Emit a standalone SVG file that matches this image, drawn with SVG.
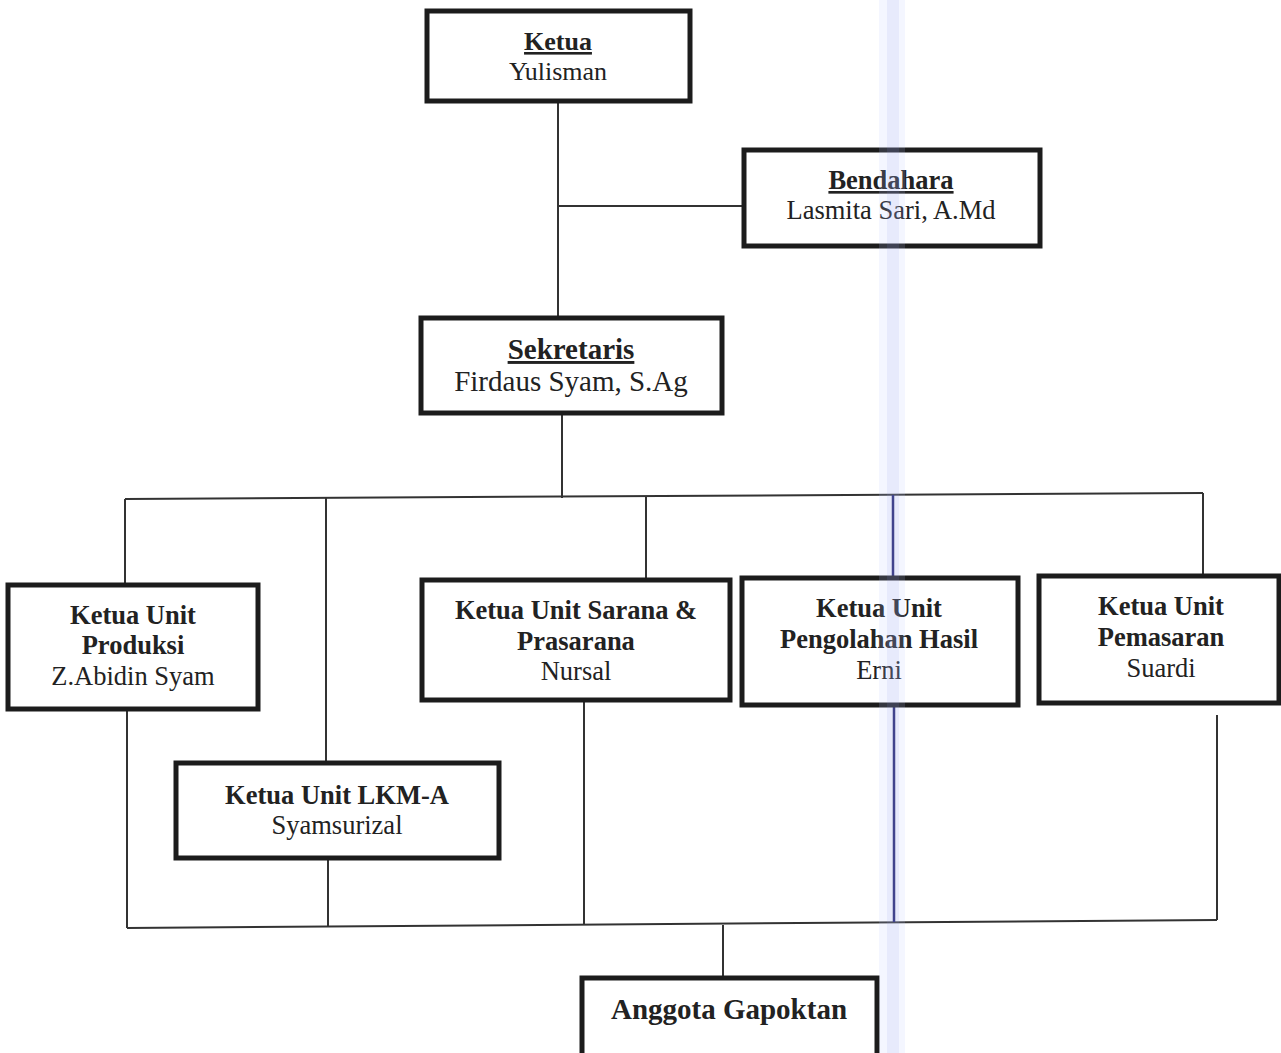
<svg xmlns="http://www.w3.org/2000/svg" width="1281" height="1053" viewBox="0 0 1281 1053">
<style>
.box{fill:#fff;stroke:#1c1c1c;stroke-width:5}
.ln{fill:none;stroke:#333;stroke-width:2}
.t{font-family:"Liberation Serif","Times New Roman",serif;fill:#222;text-anchor:middle}
.b{font-weight:bold}
.u{text-decoration:underline}
</style>
<rect width="1281" height="1053" fill="#fff"/>
<g id="connectors">
<path class="ln" d="M558,101 V318 M558,206 H744 M562,413 V498"/>
<path class="ln" d="M125,499 L1203,493"/>
<path class="ln" d="M125,499 V585 M326,498 V763 M646,496 V580 M1203,493 V576"/>
<path class="ln" d="M127,709 V928 M328,858 V927 M584,700 V925 M1217,715 V920"/>
<path class="ln" d="M127,928 L1217,920"/>
<path class="ln" d="M723,925 V978"/>
<path fill="none" stroke="#1e1e6a" stroke-width="2.5" d="M893,495 V578 M894,705 V922"/>
</g>
<g id="ketua"><rect class="box" x="427" y="11" width="263" height="90"/>
<text class="t b u" x="558" y="50" font-size="26">Ketua</text>
<text class="t" x="558" y="80" font-size="26">Yulisman</text></g>
<g id="bendahara"><rect class="box" x="744" y="150" width="296" height="96"/>
<text class="t b u" x="891" y="189" font-size="26.5">Bendahara</text>
<text class="t" x="891" y="219" font-size="26.5">Lasmita Sari, A.Md</text></g>
<g id="sekretaris"><rect class="box" x="421" y="318" width="301" height="95"/>
<text class="t b u" x="571" y="359" font-size="29">Sekretaris</text>
<text class="t" x="571" y="391" font-size="29">Firdaus Syam, S.Ag</text></g>
<g id="produksi"><rect class="box" x="8" y="585" width="250" height="124"/>
<text class="t b" x="133" y="624" font-size="26.5">Ketua Unit</text>
<text class="t b" x="133" y="654" font-size="26.5">Produksi</text>
<text class="t" x="133" y="685" font-size="26.5">Z.Abidin Syam</text></g>
<g id="sarana"><rect class="box" x="422" y="580" width="308" height="120"/>
<text class="t b" x="576" y="619" font-size="26.5">Ketua Unit Sarana &amp;</text>
<text class="t b" x="576" y="650" font-size="26.5">Prasarana</text>
<text class="t" x="576" y="680" font-size="26.5">Nursal</text></g>
<g id="pengolahan"><rect class="box" x="742" y="578" width="276" height="127"/>
<text class="t b" x="879" y="617" font-size="26.5">Ketua Unit</text>
<text class="t b" x="879" y="648" font-size="26.5">Pengolahan Hasil</text>
<text class="t" x="879" y="679" font-size="26.5">Erni</text></g>
<g id="pemasaran"><rect class="box" x="1039" y="576" width="240" height="127"/>
<text class="t b" x="1161" y="615" font-size="26.5">Ketua Unit</text>
<text class="t b" x="1161" y="646" font-size="26.5">Pemasaran</text>
<text class="t" x="1161" y="677" font-size="26.5">Suardi</text></g>
<g id="lkma"><rect class="box" x="176" y="763" width="323" height="95"/>
<text class="t b" x="337" y="804" font-size="26.5">Ketua Unit LKM-A</text>
<text class="t" x="337" y="834" font-size="26.5">Syamsurizal</text></g>
<g id="anggota"><rect class="box" x="582" y="978" width="295" height="90"/>
<text class="t b" x="729" y="1019" font-size="29">Anggota Gapoktan</text></g>
<rect x="879" y="0" width="26" height="1053" fill="#b8c8ff" opacity="0.16"/>
<rect x="887" y="0" width="12" height="1053" fill="#8898e8" opacity="0.12"/>
</svg>
